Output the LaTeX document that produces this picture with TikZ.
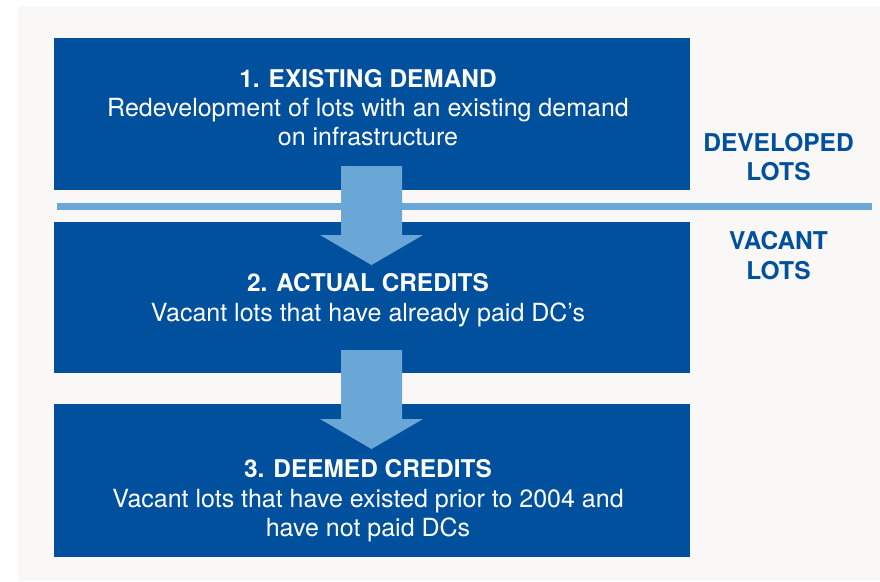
\documentclass[tikz,border=0pt]{standalone}
\usepackage{fontspec}
\setmainfont{TeX Gyre Heros}
\definecolor{bgc}{HTML}{F9F8F6}
\definecolor{boxblue}{HTML}{00509E}
\definecolor{lightblue}{HTML}{6AA6D6}
\tikzset{
  panel/.style={fill=boxblue, draw=none, inner sep=0pt, anchor=north west},
  ttl/.style={text=white, font=\fontsize{24.4}{29}\selectfont\bfseries, anchor=base, inner sep=0pt},
  txt/.style={text=white, font=\fontsize{25}{30}\selectfont, anchor=base, inner sep=0pt},
  side/.style={text=boxblue, font=\fontsize{24.5}{29}\selectfont\bfseries, anchor=base, inner sep=0pt},
  fatarrow/.style={fill=lightblue, draw=none},
}
\begin{document}
\begin{tikzpicture}[x=1pt, y=-1pt]
\useasboundingbox (0,0) rectangle (880,581);
\fill[bgc] (18,6) rectangle (880,581);
% panels
\node[panel, minimum width=636pt, minimum height=152pt] (b1) at (54,38) {};
\node[panel, minimum width=636pt, minimum height=151pt] (b2) at (54,222) {};
\node[panel, minimum width=636pt, minimum height=153pt] (b3) at (54,404) {};
% divider line
\coordinate (l1) at (57,206.5);
\coordinate (l2) at (872,206.5);
\draw[lightblue, line width=7pt] (l1) -- (l2);
% arrows
\fill[fatarrow] (341,166) -- (402,166) -- (402,235) -- (423,235) -- (371.5,265) -- (320,235) -- (341,235) -- cycle;
\fill[fatarrow] (341,350) -- (402,350) -- (402,419) -- (423,419) -- (371.5,449) -- (320,419) -- (341,419) -- cycle;
% texts box 1
\node[ttl] (t1) at (368,87) {1. EXISTING DEMAND};
\node[txt] (t1a) at (368,116) {Redevelopment of lots with an existing demand};
\node[txt] (t1b) at (368,145) {on infrastructure};
% box 2
\node[ttl] (t2) at (368,291) {2. ACTUAL CREDITS};
\node[txt] (t2a) at (368,321) {Vacant lots that have already paid DC’s};
% box 3
\node[ttl] (t3) at (368,477) {3. DEEMED CREDITS};
\node[txt] (t3a) at (368,507) {Vacant lots that have existed prior to 2004 and};
\node[txt] (t3b) at (368,536) {have not paid DCs};
% side labels
\node[side] (s1) at (778.5,151) {DEVELOPED};
\node[side] (s2) at (778.5,180) {LOTS};
\node[side] (s3) at (778.5,249) {VACANT};
\node[side] (s4) at (778.5,279) {LOTS};
\end{tikzpicture}
\end{document}
